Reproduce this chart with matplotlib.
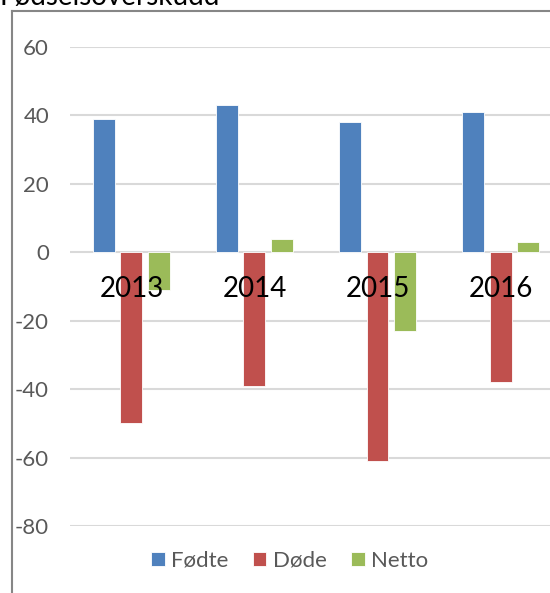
import numpy as np
import matplotlib
matplotlib.use("Agg")
from matplotlib import pyplot as plt
from matplotlib.lines import Line2D

# data
years = ["2013", "2014", "2015", "2016"]
fodte = [39, 43, 38, 41]
dode = [-50, -39, -61, -38]
netto = [-11, 4, -23, 3]

series_names = ["Fødte", "Døde", "Netto"]
colors = ["#4F81BD", "#C0504D", "#9BBB59"]
yticks = [-80, -60, -40, -20, 0, 20, 40, 60]

plt.rcParams["font.family"] = ["Lato", "DejaVu Sans"]

fig = plt.figure(figsize=(5.5, 5.93), dpi=100)
ax = fig.add_axes([0.127, 0.113, 0.895, 0.808])

# gridlines drawn by hand so they stay behind the bars
for v in yticks:
    ax.axhline(v, color="#d9d9d9", linewidth=1.5, zorder=0)

x = np.arange(len(years))
width = 0.178
step = 0.224
for i, (vals, name) in enumerate(zip([fodte, dode, netto], series_names)):
    ax.bar(x + (i - 1) * step, vals, width=width, color=colors[i], label=name,
           edgecolor="white", linewidth=0.6, zorder=2)

# axis (and its year labels) drawn above the bars
ax.set_axisbelow(False)

ax.set_ylim(-80, 60)
ax.set_xlim(-0.5, len(years) - 0.5)
ax.set_yticks(yticks)
ax.set_yticklabels([str(v) for v in yticks], fontsize=16, color="#595959")
ax.tick_params(axis="y", length=0, pad=15)

# year labels sit just under the zero line
ax.spines["bottom"].set_position(("data", 0))
ax.set_xticks(x)
ax.set_xticklabels(years, fontsize=20, color="black")
ax.tick_params(axis="x", length=0, pad=17)
for s in ["top", "right", "left", "bottom"]:
    ax.spines[s].set_visible(False)

ax.legend(loc="center", bbox_to_anchor=(0.527, 0.054), bbox_transform=fig.transFigure,
          ncol=3, frameon=False, fontsize=16, handlelength=0.6, handleheight=0.6,
          handletextpad=0.3, columnspacing=1.1, labelcolor="#595959")

# chart border (left and top edge visible in the crop)
fig.add_artist(Line2D([12 / 550, 12 / 550], [0, 1 - 11 / 593], transform=fig.transFigure,
                      color="#868686", linewidth=1.5))
fig.add_artist(Line2D([12 / 550, 1], [1 - 11 / 593, 1 - 11 / 593], transform=fig.transFigure,
                      color="#868686", linewidth=1.5))

# title, mostly cut off at the top of the image
fig.text(0.0, 1 - 5 / 593, "Fødselsoverskudd", fontsize=20, color="black",
         ha="left", va="baseline")

plt.savefig("out.png", dpi=100)
